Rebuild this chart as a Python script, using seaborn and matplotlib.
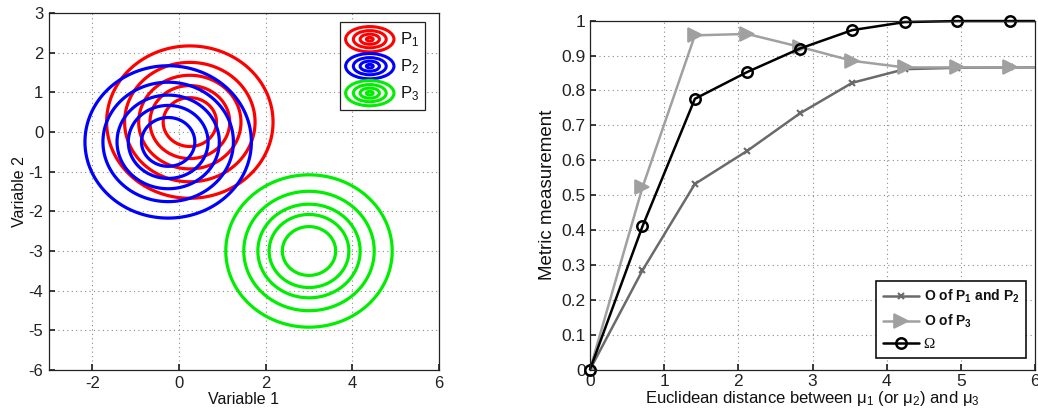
import numpy as np
import pandas as pd
import matplotlib
matplotlib.use("Agg")
import matplotlib.pyplot as plt
import seaborn as sns
from matplotlib.legend_handler import HandlerBase
from matplotlib.patches import Ellipse, Rectangle
from matplotlib.lines import Line2D

# ---------------- data ----------------
# Left panel: contour rings of three 2-D Gaussians
group_names = ["P$_1$", "P$_2$", "P$_3$"]
group_colors = ["#ff0000", "#0000ff", "#00ee00"]
mean_x = [0.25, -0.25, 3.0]
mean_y = [0.25, -0.25, -3.0]
ring_radii = [0.615, 0.92, 1.18, 1.505, 1.92]

# Right panel: metric vs Euclidean distance
distance = [0.0, 0.707, 1.414, 2.121, 2.828, 3.536, 4.243, 4.950, 5.657, 6.364]
o_p1_p2 = [0.0, 0.284, 0.532, 0.627, 0.734, 0.822, 0.861, 0.865, 0.866, 0.866]
o_p3 = [0.0, 0.522, 0.958, 0.962, 0.925, 0.885, 0.866, 0.866, 0.866, 0.866]
omega = [0.0, 0.410, 0.776, 0.853, 0.920, 0.973, 0.996, 0.999, 0.999, 0.999]
series_labels = [r"O of P$_\mathbf{1}$ and P$_\mathbf{2}$", r"O of P$_\mathbf{3}$", "Ω"]

left_xticks = [-2, 0, 2, 4, 6]
left_yticks = [-6, -5, -4, -3, -2, -1, 0, 1, 2, 3]
right_xticks = [0, 1, 2, 3, 4, 5, 6]
right_yticks = [0, 0.1, 0.2, 0.3, 0.4, 0.5, 0.6, 0.7, 0.8, 0.9, 1.0]
right_yticklabels = ["0", "0.1", "0.2", "0.3", "0.4", "0.5", "0.6", "0.7", "0.8", "0.9", "1"]

# ---------------- style ----------------
sns.set_theme(style="ticks")
plt.rcParams.update({
    "font.family": ["Liberation Sans", "DejaVu Sans"],
    "mathtext.fontset": "custom",
    "mathtext.rm": "Liberation Sans",
    "mathtext.it": "Liberation Sans:italic",
    "mathtext.bf": "Liberation Sans:bold",
    "axes.unicode_minus": False,
    "xtick.direction": "in",
    "ytick.direction": "in",
    "xtick.major.size": 4,
    "ytick.major.size": 4,
    "axes.edgecolor": "#222222",
    "axes.linewidth": 0.9,
    "xtick.color": "#222222",
    "ytick.color": "#222222",
    "text.color": "#111111",
    "axes.labelcolor": "#111111",
})

fig = plt.figure(figsize=(10.38, 4.16), dpi=100)
W, H = 1038, 416
axL = fig.add_axes([49 / W, (H - 370) / H, 390 / W, 357 / H])
axR = fig.add_axes([590 / W, (H - 369.5) / H, 445 / W, 348.8 / H])

grid_kw = dict(color="#8a8a8a", linestyle=(0, (1, 3)), linewidth=0.8)

# ---------------- left panel ----------------
gx = np.linspace(-3, 6, 600)
gy = np.linspace(-6, 3, 600)
GX, GY = np.meshgrid(gx, gy)
for mx, my, col in zip(mean_x, mean_y, group_colors):
    dist = np.sqrt((GX - mx) ** 2 + (GY - my) ** 2)
    axL.contour(GX, GY, dist, levels=ring_radii, colors=[col], linewidths=2.3)

axL.set_xlim(-3, 6)
axL.set_ylim(-6, 3)
axL.set_xticks(left_xticks)
axL.set_yticks(left_yticks)
axL.tick_params(labelsize=12, pad=4)
axL.grid(True, **grid_kw)
axL.set_xlabel("Variable 1", fontsize=11.5, labelpad=1)
axL.set_ylabel("Variable 2", fontsize=11.5, labelpad=1)
for s in axL.spines.values():
    s.set_visible(True)


class HandlerRings(HandlerBase):
    def create_artists(self, legend, orig_handle, xdescent, ydescent,
                       width, height, fontsize, trans):
        col = orig_handle.get_color()
        cx = width / 2 - xdescent
        cy = height / 2 - ydescent
        arts = []
        for f in [1.0, 0.68, 0.4, 0.14]:
            e = Ellipse((cx, cy), width * f, height * 1.15 * f,
                        facecolor="none", edgecolor=col, linewidth=2.2,
                        transform=trans)
            arts.append(e)
        return arts


ring_handles = [Line2D([], [], color=c) for c in group_colors]
legL = axL.legend(ring_handles, group_names, loc="upper right",
                  handler_map={Line2D: HandlerRings()},
                  handlelength=2.9, handleheight=1.65, handletextpad=0.35,
                  labelspacing=0.3, borderpad=0.35, fontsize=12,
                  fancybox=False, framealpha=1, edgecolor="#222222",
                  bbox_to_anchor=(0.985, 0.997))
legL.get_frame().set_linewidth(0.9)

# ---------------- right panel ----------------
df = pd.DataFrame({"distance": distance, "p12": o_p1_p2, "p3": o_p3, "omega": omega})
sns.lineplot(data=df, x="distance", y="p12", ax=axR, color="#6a6a6a",
             linewidth=1.8, marker="x", markersize=5, markeredgewidth=1.5,
             markeredgecolor="#6a6a6a", label=series_labels[0])
sns.lineplot(data=df, x="distance", y="p3", ax=axR, color="#a0a0a0",
             linewidth=1.8, marker=">", markersize=10, markeredgewidth=1.2,
             markeredgecolor="#a0a0a0", markerfacecolor="#a0a0a0",
             label=series_labels[1])
sns.lineplot(data=df, x="distance", y="omega", ax=axR, color="black",
             linewidth=1.8, marker="o", markersize=7.5, markeredgewidth=1.8,
             markeredgecolor="black", markerfacecolor="none",
             label=series_labels[2])

axR.set_xlim(0, 6)
axR.set_ylim(0, 1)
axR.set_xticks(right_xticks)
axR.set_yticks(right_yticks)
axR.set_yticklabels(right_yticklabels)
axR.tick_params(labelsize=12.5, pad=3)
axR.grid(True, **grid_kw)
axR.set_xlabel("Euclidean distance between μ$_1$ (or μ$_2$) and μ$_3$",
               fontsize=12, labelpad=0)
axR.set_ylabel("Metric measurement", fontsize=13.5, labelpad=4)
for s in axR.spines.values():
    s.set_visible(True)
# the Omega curve: clip at the right edge of the x range only,
# so its markers at y=0 and y=1 show whole
omega_line = axR.get_lines()[2]
clip = Rectangle((-0.05, -0.05), 1.05, 1.1, transform=axR.transAxes,
                 facecolor="none", edgecolor="none")
omega_line.set_clip_path(clip)

legR = axR.legend(loc="lower right", handlelength=2.6, handletextpad=0.3,
                  labelspacing=0.55, borderpad=0.5, fancybox=False,
                  framealpha=1, edgecolor="#111111",
                  prop={"weight": "bold", "size": 10},
                  bbox_to_anchor=(0.996, 0.013))
legR.get_frame().set_linewidth(1.2)
t_omega = legR.get_texts()[2]
t_omega.set_family(["Liberation Serif", "DejaVu Serif"])
t_omega.set_fontweight("normal")
t_omega.set_fontsize(11)

fig.savefig("out.png", dpi=100)
